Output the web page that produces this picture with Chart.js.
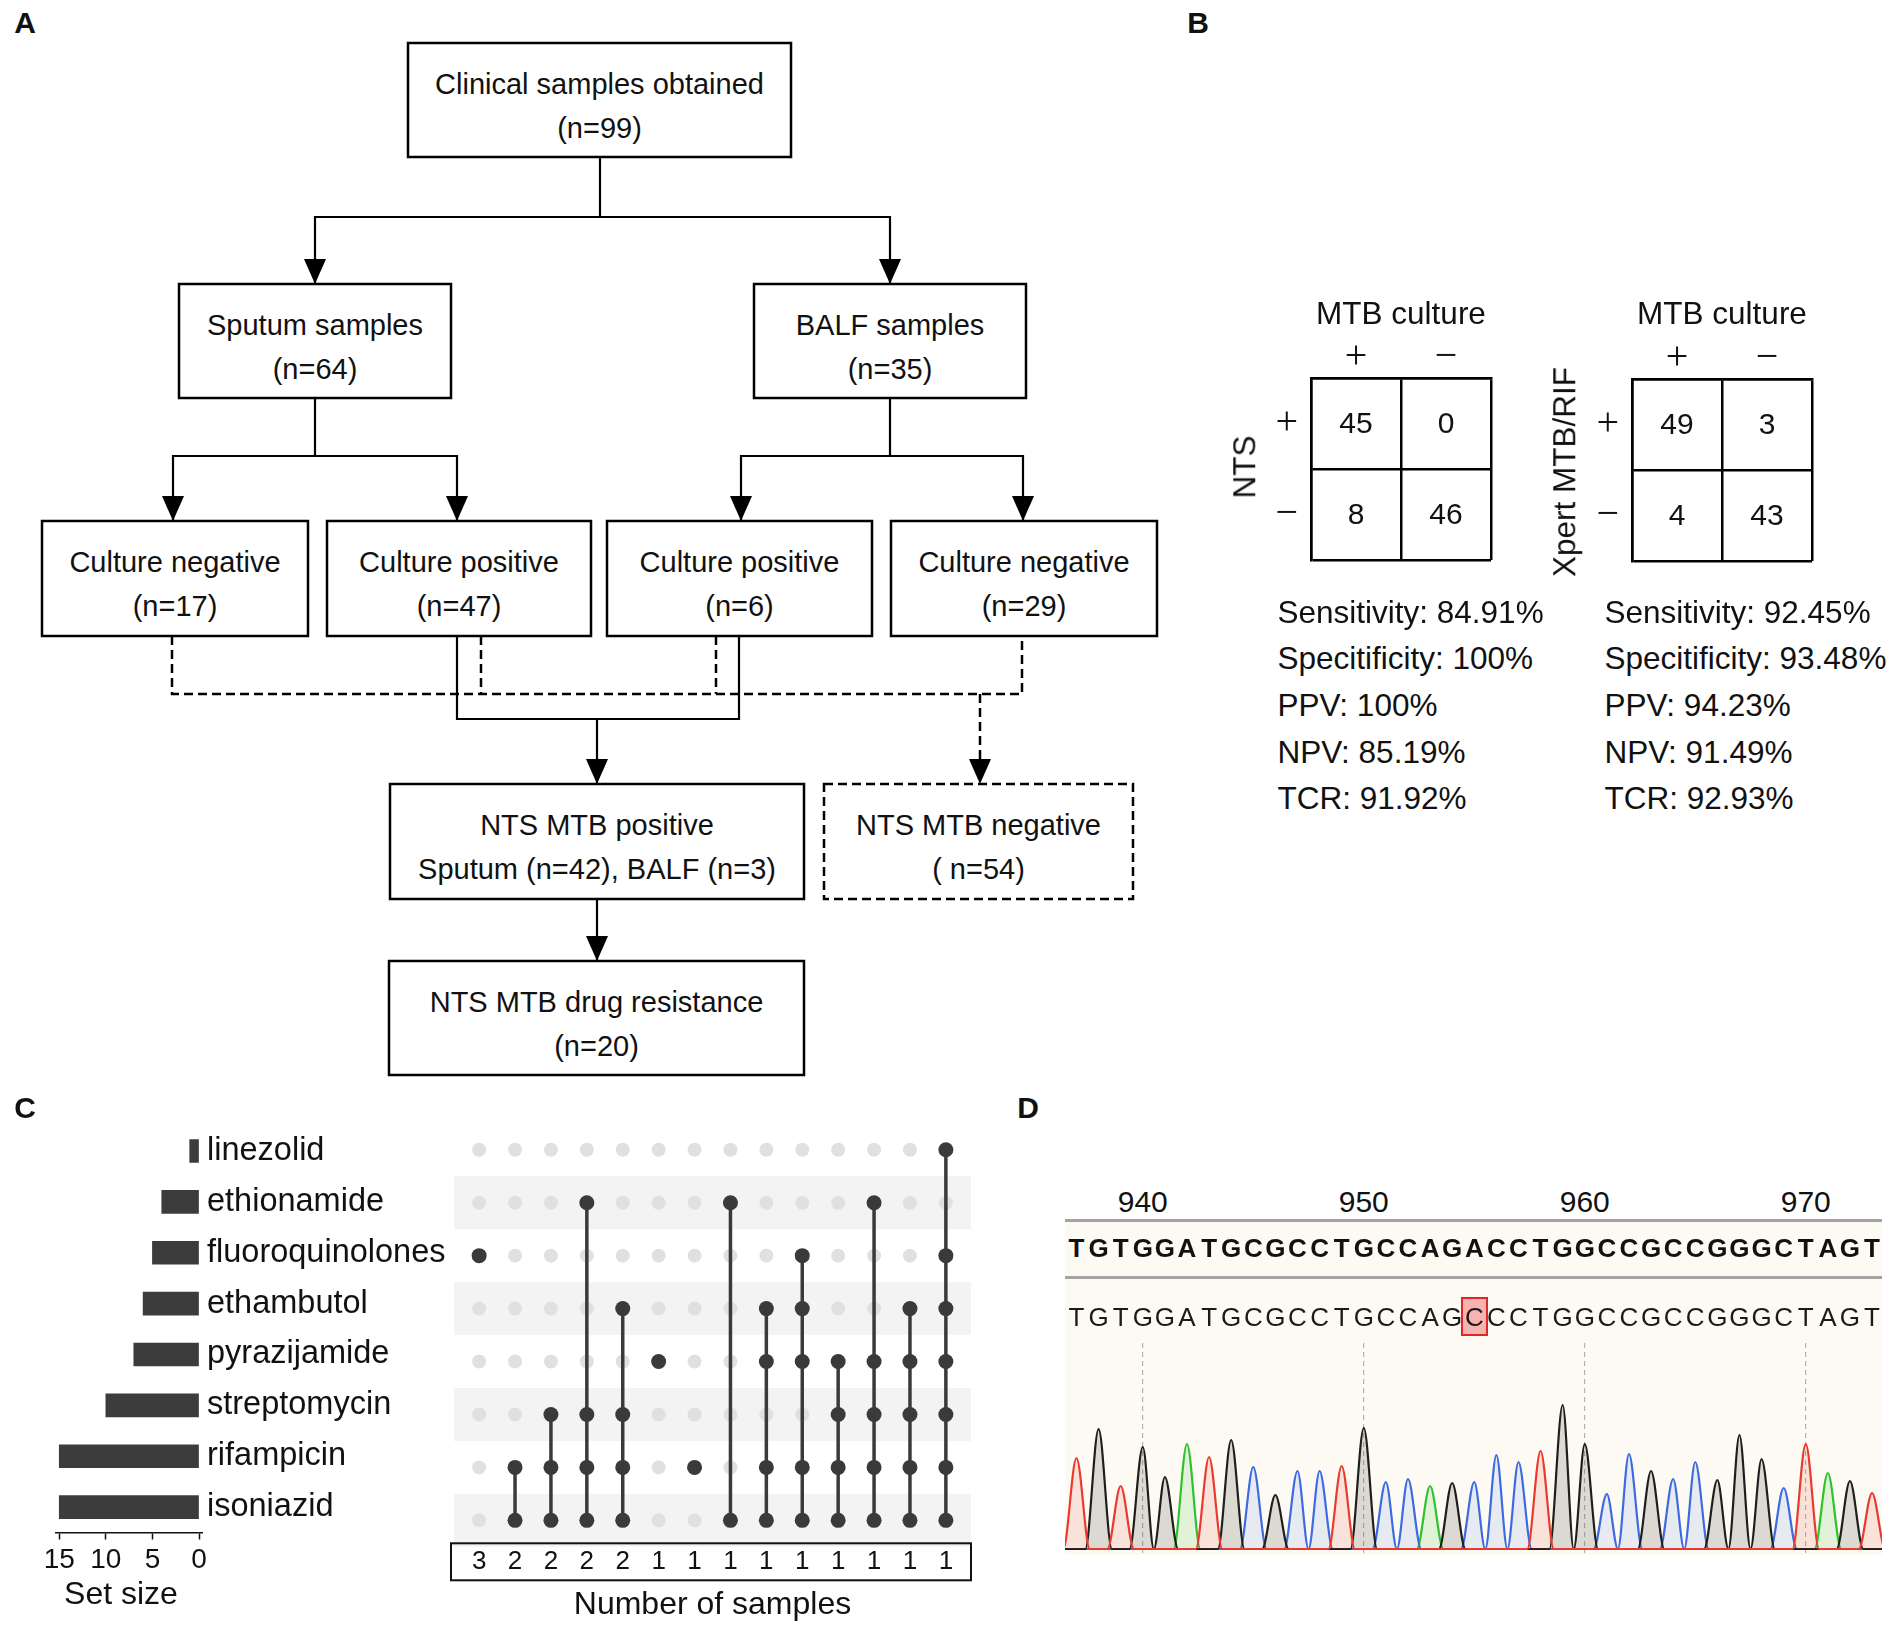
<!DOCTYPE html>
<html><head><meta charset="utf-8"><title>Figure</title>
<script src="https://cdn.jsdelivr.net/npm/chart.js@4.4.1/dist/chart.umd.min.js"></script>
<style>
html,body{margin:0;padding:0;background:#fff;}
#page{position:relative;width:1902px;height:1627px;overflow:hidden;background:#fff;font-family:"Liberation Sans",Arial,sans-serif;color:#111;}
.t{position:absolute;white-space:nowrap;line-height:1;}
#page canvas{position:absolute;}
.hl{position:absolute;}
</style></head>
<body><div id="page">
<svg id="flow" width="1190" height="1090" style="position:absolute;left:0;top:0"></svg>
<div class="hl" style="left:1065px;top:1220px;width:817px;height:335px;background:#fcfaf3"></div>
<div class="hl" style="left:1065px;top:1218.5px;width:817px;height:3px;background:#a3a3a3"></div>
<div class="hl" style="left:1065px;top:1275.5px;width:817px;height:3px;background:#a3a3a3"></div>
<div id="mut" class="hl" style="background:rgba(240,120,120,0.55);border:2px solid #e02626;box-sizing:border-box"></div>
<canvas id="tab1" width="300" height="330" style="left:1200px;top:280px"></canvas>
<canvas id="tab2" width="300" height="330" style="left:1521px;top:281px"></canvas>
<canvas id="setsize" width="450" height="535" style="left:0;top:1090px"></canvas>
<canvas id="matrix" width="560" height="515" style="left:440px;top:1110px"></canvas>
<canvas id="trace" width="830" height="230" style="left:1060px;top:1330px"></canvas>
</div>
<script>
// ---------------- DATA ----------------
// Panel A : flow chart
const flowTitles = ["Clinical samples obtained","Sputum samples","BALF samples","Culture negative","Culture positive","Culture positive","Culture negative","NTS MTB positive","NTS MTB negative","NTS MTB drug resistance"];
const flowCounts = [99,64,35,17,47,6,29,null,54,20];
const ntsPositiveSources = ["Sputum","BALF"];
const ntsPositiveCounts = [42,3];

// Panel B : 2x2 tables
const signLabels = ["+","\u2212"];
const ntsTable = [[45,0],[8,46]];
const xpertTable = [[49,3],[4,43]];
const statNames = ["Sensitivity","Specitificity","PPV","NPV","TCR"];
const ntsStats = ["84.91%","100%","100%","85.19%","91.92%"];
const xpertStats = ["92.45%","93.48%","94.23%","91.49%","92.93%"];

// Panel C : UpSet plot
const drugs = ["linezolid","ethionamide","fluoroquinolones","ethambutol","pyrazijamide","streptomycin","rifampicin","isoniazid"];
const setSizes = [1,4,5,6,7,10,15,15];
const setSizeTicks = [0,5,10,15];
const intersectionCounts = [3,2,2,2,2,1,1,1,1,1,1,1,1,1];
const intersectionSets = [
  ["fluoroquinolones"],
  ["rifampicin","isoniazid"],
  ["streptomycin","rifampicin","isoniazid"],
  ["ethionamide","streptomycin","rifampicin","isoniazid"],
  ["ethambutol","streptomycin","rifampicin","isoniazid"],
  ["pyrazijamide"],
  ["rifampicin"],
  ["ethionamide","isoniazid"],
  ["ethambutol","pyrazijamide","rifampicin","isoniazid"],
  ["fluoroquinolones","ethambutol","pyrazijamide","rifampicin","isoniazid"],
  ["pyrazijamide","streptomycin","rifampicin","isoniazid"],
  ["ethionamide","pyrazijamide","streptomycin","rifampicin","isoniazid"],
  ["ethambutol","pyrazijamide","streptomycin","rifampicin","isoniazid"],
  ["linezolid","fluoroquinolones","ethambutol","pyrazijamide","streptomycin","rifampicin","isoniazid"]
];

// Panel D : Sanger chromatogram
const rulerTicks = [940,950,960,970];
const seqStart = 937;
const referenceSeq = "TGTGGATGCGCCTGCCAGACCTGGCCGCCGGGCTAGT";
const sampleSeq    = "TGTGGATGCGCCTGCCAGCCCTGGCCGCCGGGCTAGT";
const mutationPosition = 955;
const peakHeights = [91,120,63,102,72,105,92,109,82,54,78,78,83,121,67,70,63,66,67,94,87,98,144,105,55,95,78,70,87,69,114,90,61,105,76,68,56];

// ---------------- STYLE / LAYOUT ----------------
const FONT = '"Liberation Sans", Arial, sans-serif';
const SERIF = '"Liberation Serif", "Times New Roman", serif';
const INK = '#111';
Chart.defaults.font.family = FONT;
Chart.defaults.color = INK;
Chart.defaults.plugins.legend.display = false;
Chart.defaults.plugins.tooltip.enabled = false;

const page = document.getElementById('page');
function addText(txt, x, y, o = {}) {
  const d = document.createElement('div');
  d.className = 't';
  d.textContent = txt;
  d.style.fontSize = (o.size || 29) + 'px';
  d.style.fontWeight = o.weight || 'normal';
  d.style.fontFamily = o.family || FONT;
  d.style.color = o.color || INK;
  d.style.left = x + 'px';
  d.style.top = y + 'px';
  const tx = (o.align === 'left') ? '0' : (o.align === 'right' ? '-100%' : '-50%');
  d.style.transform = `translate(${tx},-50%)` + (o.rotate ? ` rotate(${o.rotate}deg)` : '');
  page.appendChild(d);
  return d;
}

// panel letters
addText('A', 25, 23, {size: 30, weight: 'bold'});
addText('B', 1198, 23, {size: 30, weight: 'bold'});
addText('C', 25, 1108, {size: 30, weight: 'bold'});
addText('D', 1028, 1108, {size: 30, weight: 'bold'});

// ---------------- PANEL A (flow chart) ----------------
const boxRects = [[408,43,791,157],[179,284,451,398],[754,284,1026,398],[42,521,308,636],[327,521,591,636],[607,521,872,636],[891,521,1157,636],[390,784,804,899],[824,784,1133,899],[389,961,804,1075]];
const boxDashed = [false,false,false,false,false,false,false,false,true,false];
const solidPaths = [
  [[600,157],[600,217]], [[315,284],[315,217],[890,217],[890,284]],
  [[315,398],[315,456]], [[173,521],[173,456],[457,456],[457,521]],
  [[890,398],[890,456]], [[741,521],[741,456],[1023,456],[1023,521]],
  [[457,636],[457,719],[739,719],[739,636]],
  [[597,719],[597,784]], [[597,899],[597,961]]
];
const dashedPaths = [
  [[172,636],[172,694],[1022,694],[1022,636]],
  [[481,636],[481,694]], [[716,636],[716,694]], [[980,694],[980,762]]
];
const arrowTips = [[315,284],[890,284],[173,521],[457,521],[741,521],[1023,521],[597,784],[597,961],[980,784]];

const svg = document.getElementById('flow');
const NS = 'http://www.w3.org/2000/svg';
function sv(tag, attrs) { const e = document.createElementNS(NS, tag); for (const k in attrs) e.setAttribute(k, attrs[k]); svg.appendChild(e); return e; }
solidPaths.forEach(p => sv('polyline', {points: p.map(q => q.join(',')).join(' '), fill: 'none', stroke: '#000', 'stroke-width': 2.2}));
dashedPaths.forEach(p => sv('polyline', {points: p.map(q => q.join(',')).join(' '), fill: 'none', stroke: '#000', 'stroke-width': 2.5, 'stroke-dasharray': '9 5'}));
arrowTips.forEach(([x, y]) => sv('polygon', {points: `${x},${y} ${x-11},${y-25} ${x+11},${y-25}`, fill: '#000'}));
boxRects.forEach((r, i) => {
  const [l, t, rr, b] = r;
  const a = {x: l, y: t, width: rr - l, height: b - t, fill: '#fff', stroke: '#000', 'stroke-width': 2.5};
  if (boxDashed[i]) a['stroke-dasharray'] = '9 5';
  sv('rect', a);
  const cx = (l + rr) / 2;
  const line2 = flowCounts[i] === null
    ? ntsPositiveSources.map((s, k) => `${s} (n=${ntsPositiveCounts[k]})`).join(', ')
    : (boxDashed[i] ? `( n=${flowCounts[i]})` : `(n=${flowCounts[i]})`);
  [[flowTitles[i], t + 51], [line2, t + 95]].forEach(([txt, y]) => {
    const e = sv('text', {x: cx, y: y, 'text-anchor': 'middle', 'font-size': 29, 'font-family': FONT, fill: INK});
    e.textContent = txt;
  });
});

// ---------------- PANEL B (2x2 tables) ----------------
function cellPlugin(values) {
  return {
    id: 'cells',
    afterDraw(chart) {
      const {ctx, scales: {x, y}} = chart;
      ctx.save();
      ctx.font = '30px ' + FONT;
      ctx.fillStyle = INK;
      ctx.textAlign = 'center';
      ctx.textBaseline = 'middle';
      values.forEach((row, r) => row.forEach((v, c) => ctx.fillText(String(v), x.getPixelForValue(c), y.getPixelForValue(r) + 1)));
      ctx.restore();
    }
  };
}
function tableChart(id, values) {
  const gridOpts = {offset: true, color: '#000', lineWidth: 2.5, drawTicks: false};
  return new Chart(document.getElementById(id), {
    type: 'scatter',
    data: {datasets: []},
    options: {
      responsive: false, animation: false, devicePixelRatio: 1,
      layout: {padding: {left: 0, top: 0, right: 9, bottom: 50}},
      scales: {
        x: {type: 'category', labels: signLabels, position: 'top', offset: true, grid: gridOpts,
            border: {color: '#000', width: 2.5},
            ticks: {font: {family: SERIF, size: 40}, color: INK, padding: -3},
            afterFit: a => { a.height = 98.4; }},
        y: {type: 'category', labels: signLabels, position: 'left', offset: true, grid: gridOpts,
            border: {color: '#000', width: 2.5},
            ticks: {font: {family: SERIF, size: 40}, color: INK, padding: 13},
            afterFit: a => { a.width = 111; }}
      }
    },
    plugins: [cellPlugin(values)]
  });
}
tableChart('tab1', ntsTable);
tableChart('tab2', xpertTable);
addText('MTB culture', 1401, 313.6, {size: 31.5});
addText('MTB culture', 1722, 313.6, {size: 31.5});
addText('NTS', 1244.5, 467, {size: 31.5, rotate: -90});
addText('Xpert MTB/RIF', 1564.5, 472, {size: 31.5, rotate: -90});
const statY = [612.5, 659.2, 705.9, 752.6, 799.3];
statNames.forEach((n, i) => {
  addText(`${n}: ${ntsStats[i]}`, 1277.5, statY[i], {size: 31.5, align: 'left'});
  addText(`${n}: ${xpertStats[i]}`, 1604.5, statY[i], {size: 31.5, align: 'left'});
});

// ---------------- PANEL C (UpSet) ----------------
new Chart(document.getElementById('setsize'), {
  type: 'bar',
  data: {labels: drugs, datasets: [{data: setSizes, backgroundColor: '#3c3c3c', borderWidth: 0, barThickness: 23}]},
  options: {
    indexAxis: 'y', responsive: false, animation: false, devicePixelRatio: 1,
    layout: {padding: {left: 56, top: 35.6, right: 0, bottom: 0}},
    scales: {
      x: {type: 'linear', reverse: true, min: -0.32, max: 15.35,
          afterBuildTicks: a => { a.ticks = setSizeTicks.map(v => ({value: v})); },
          grid: {drawOnChartArea: false, drawTicks: true, tickLength: 7, tickColor: '#111', tickWidth: 1.5, color: '#111'},
          border: {display: true, color: '#111', width: 1.5},
          ticks: {font: {size: 28}, color: INK, padding: 3.5, maxRotation: 0},
          afterFit: a => { a.height = 92.5; }},
      y: {position: 'right', grid: {display: false}, border: {display: false},
          ticks: {font: {size: 32.5}, color: INK, padding: -3},
          afterFit: a => { a.width = 248; }}
    }
  }
});
addText('Set size', 121, 1593, {size: 32});

const greyDots = [], darkDots = [], connectors = [];
intersectionSets.forEach((set, c) => {
  drugs.forEach((d, r) => greyDots.push({x: c, y: r}));
  const rows = set.map(d => drugs.indexOf(d));
  rows.forEach(r => darkDots.push({x: c, y: r}));
  if (rows.length > 1) connectors.push([{x: c, y: Math.min(...rows)}, {x: c, y: Math.max(...rows)}]);
});
const stripePlugin = {
  id: 'stripes',
  beforeDatasetsDraw(chart) {
    const {ctx, chartArea: a, scales: {y}} = chart;
    ctx.save();
    ctx.fillStyle = '#f3f3f3';
    drugs.forEach((d, i) => {
      if (i % 2 === 1) {
        const y0 = y.getPixelForValue(i - 0.5), y1 = y.getPixelForValue(i + 0.5);
        ctx.fillRect(a.left, Math.min(y0, y1), a.right - a.left, Math.abs(y1 - y0));
      }
    });
    ctx.restore();
  },
  afterDraw(chart) {
    const {ctx, chartArea: a} = chart;
    ctx.save();
    ctx.strokeStyle = '#111';
    ctx.lineWidth = 2;
    ctx.strokeRect(a.left - 3, a.bottom - 3.5, a.right - a.left + 3, 37);
    ctx.restore();
  }
};
new Chart(document.getElementById('matrix'), {
  type: 'scatter',
  data: {datasets: [
    {data: darkDots, pointRadius: 7.5, backgroundColor: '#3a3a3a', borderWidth: 0, order: 0},
    ...connectors.map(pts => ({type: 'line', data: pts, borderColor: '#3a3a3a', borderWidth: 3.5, pointRadius: 0, order: 1})),
    {data: greyDots, pointRadius: 7, backgroundColor: '#e0e0e0', borderWidth: 0, order: 2}
  ]},
  options: {
    responsive: false, animation: false, devicePixelRatio: 1,
    layout: {padding: {left: 14, right: 29, top: 13.3, bottom: 0}},
    scales: {
      x: {type: 'linear', min: -0.7, max: 13.7,
          afterBuildTicks: a => { a.ticks = intersectionCounts.map((v, i) => ({value: i})); },
          grid: {display: false}, border: {display: false},
          ticks: {font: {size: 26}, color: INK, padding: -8.5, autoSkip: false, maxRotation: 0,
                  callback: v => intersectionCounts[v]},
          title: {display: true, text: 'Number of samples', font: {size: 32}, color: INK, padding: {top: 0, bottom: 1}},
          afterFit: a => { a.height = 78.2; }},
      y: {type: 'linear', display: false, reverse: true, min: -0.5, max: 7.5}
    }
  },
  plugins: [stripePlugin]
});

// ---------------- PANEL D (chromatogram) ----------------
const traceColors = {T: '#ea3a2e', G: '#1e1e1e', C: '#3c6ae0', A: '#2fc22f'};
const fillColors = {T: 'rgba(235,70,50,0.13)', G: 'rgba(50,50,40,0.16)', C: 'rgba(60,100,230,0.10)', A: 'rgba(50,190,40,0.13)'};
const traceOrder = ['T', 'G', 'C', 'A'];
const halfWidth = 0.6;
function tracePoints(base) {
  const pts = [{x: seqStart - 0.9, y: 0}];
  for (let i = 0; i < sampleSeq.length; i++) {
    if (sampleSeq[i] !== base) continue;
    const p = seqStart + i;
    const nextSame = sampleSeq[i + 1] === base;
    const last = pts[pts.length - 1];
    if (last.x < p - halfWidth - 1e-6) pts.push({x: p - halfWidth, y: 0});
    pts.push({x: p, y: peakHeights[i]});
    pts.push({x: nextSame ? p + 0.5 : p + halfWidth, y: 0});
  }
  const end = seqStart + sampleSeq.length;
  if (pts[pts.length - 1].x < end) pts.push({x: end, y: 0});
  return pts;
}
const traceChart = new Chart(document.getElementById('trace'), {
  type: 'line',
  data: {datasets: traceOrder.map(b => ({
    data: tracePoints(b), borderColor: traceColors[b], backgroundColor: fillColors[b],
    fill: 'origin', borderWidth: 2.2, pointRadius: 0, cubicInterpolationMode: 'monotone'
  }))},
  options: {
    responsive: false, animation: false, devicePixelRatio: 1,
    layout: {padding: {left: 5, right: 8, top: 13, bottom: 7}},
    scales: {
      x: {type: 'linear', min: 936.48, max: 973.45,
          afterBuildTicks: a => { a.ticks = rulerTicks.map(v => ({value: v})); },
          ticks: {display: false},
          grid: {color: '#b3b3b3', lineWidth: 1.2, drawTicks: false},
          border: {display: false, dash: [5, 4]},
          afterFit: a => { a.height = 0; }},
      y: {display: false, min: -4, max: 206}
    }
  }
});
const xs = traceChart.scales.x;
const traceLeft = 1060;
rulerTicks.forEach(v => addText(String(v), traceLeft + xs.getPixelForValue(v), 1201.7, {size: 30}));
const mutX = traceLeft + xs.getPixelForValue(mutationPosition);
const mut = document.getElementById('mut');
mut.style.left = (mutX - 13.5) + 'px'; mut.style.top = '1297px'; mut.style.width = '27px'; mut.style.height = '39px';
for (let i = 0; i < referenceSeq.length; i++) {
  const px = traceLeft + xs.getPixelForValue(seqStart + i);
  addText(referenceSeq[i], px, 1248.3, {size: 26, weight: 'bold'});
  addText(sampleSeq[i], px, 1316.7, {size: 26, color: '#1a1a1a'});
}
</script></body></html>
